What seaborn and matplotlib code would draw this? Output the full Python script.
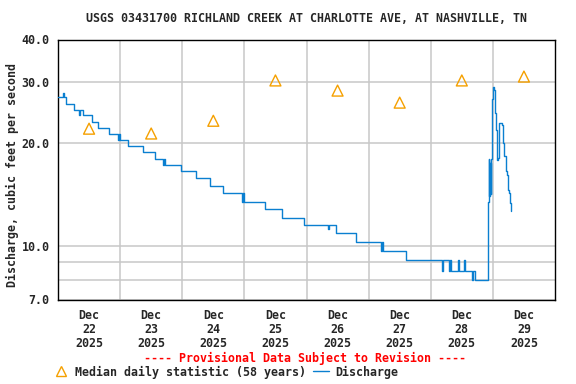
import matplotlib
matplotlib.use("Agg")
import matplotlib.pyplot as plt
from matplotlib.lines import Line2D
import seaborn as sns
import pandas as pd

# ---- data ----
days = ["Dec\n22\n2025", "Dec\n23\n2025", "Dec\n24\n2025", "Dec\n25\n2025",
        "Dec\n26\n2025", "Dec\n27\n2025", "Dec\n28\n2025", "Dec\n29\n2025"]
median_day = [0.5, 1.5, 2.5, 3.5, 4.5, 5.5, 6.5, 7.5]          # noon of each day
median_cfs = [22.0, 21.3, 23.2, 30.4, 28.4, 26.2, 30.4, 31.2]

# discharge breakpoints (days since Dec 22 00:00, cfs) drawn as steps
q_time = [0.000, 0.075, 0.090, 0.134, 0.258, 0.340, 0.360, 0.408, 0.553, 0.650,
          0.823, 0.960, 0.975, 0.990, 1.134, 1.366, 1.565, 1.690, 1.705, 1.720,
          1.976, 2.221, 2.452, 2.650, 2.960, 2.975, 2.989, 3.327, 3.608, 3.965,
          4.340, 4.360, 4.468, 4.802, 5.200, 5.215, 5.231, 5.597, 6.188, 6.205,
          6.296, 6.310, 6.330, 6.446, 6.462, 6.538, 6.555, 6.672, 6.685, 6.715,
          6.925, 6.935, 6.945, 6.955, 6.965, 6.975, 6.984, 7.000, 7.011, 7.027,
          7.043, 7.059, 7.075, 7.102, 7.140, 7.161, 7.183, 7.204, 7.226, 7.237,
          7.258, 7.274, 7.290]
q_cfs = [27.2, 27.9, 27.2, 26.0, 24.9, 24.1, 24.9, 24.1, 23.0, 22.1,
         21.3, 20.4, 21.3, 20.4, 19.6, 18.8, 18.0, 17.2, 18.0, 17.2,
         16.6, 15.8, 15.0, 14.3, 13.5, 14.3, 13.5, 12.8, 12.1, 11.5,
         11.2, 11.5, 10.9, 10.3, 9.7, 10.3, 9.7, 9.1, 8.5, 9.1,
         8.5, 9.1, 8.5, 9.1, 8.5, 9.1, 8.5, 8.0, 8.5, 8.0,
         13.5, 17.9, 14.0, 17.5, 14.2, 18.0, 26.8, 29.1, 28.5, 24.4,
         21.8, 17.8, 18.1, 22.9, 22.6, 20.0, 18.3, 16.6, 16.1, 14.6,
         14.3, 13.4, 12.7]

title = "USGS 03431700 RICHLAND CREEK AT CHARLOTTE AVE, AT NASHVILLE, TN"
ylabel = "Discharge, cubic feet per second"
provisional = "---- Provisional Data Subject to Revision ----"
legend_labels = ["Median daily statistic (58 years)", "Discharge"]
ytick_vals = [7, 8, 9, 10, 20, 30, 40]
ytick_labels = ["7.0", "", "", "10.0", "20.0", "30.0", "40.0"]

# ---- style ----
sns.set_theme(style="white")
plt.rcParams["font.family"] = ["DejaVu Sans Mono"]
plt.rcParams["font.weight"] = "bold"
FS = 8.4
LINE_C = "#0a7fd0"
MED_C = "#f5a000"

fig = plt.figure(figsize=(5.76, 3.84), dpi=100)
ax = fig.add_axes([58/576, 1 - 299.5/384, (555 - 58)/576, 260/384])

dq = pd.DataFrame({"t": q_time, "q": q_cfs})
dm = pd.DataFrame({"t": median_day, "q": median_cfs})

sns.lineplot(data=dq, x="t", y="q", ax=ax, color=LINE_C, lw=1.0,
             drawstyle="steps-post", estimator=None, sort=False, zorder=3)
sns.scatterplot(data=dm, x="t", y="q", ax=ax, marker="^", s=62,
                facecolor="none", edgecolor=MED_C, linewidth=1.0, zorder=4)

ax.set_yscale("log")
ax.set_ylim(7, 40)
ax.set_xlim(0, 8)
ax.set_yticks(ytick_vals)
ax.set_yticklabels(ytick_labels)
ax.yaxis.set_minor_locator(matplotlib.ticker.NullLocator())
ax.set_xticks([1, 2, 3, 4, 5, 6, 7])
ax.set_xticklabels([])
ax.set_xticks(median_day, minor=True)
ax.set_xticklabels(days, minor=True)
ax.tick_params(which="both", length=0, labelsize=FS, pad=7)
ax.tick_params(axis="y", pad=6)
ax.grid(True, which="major", color="#c8c8c8", lw=1.1)
for s in ax.spines.values():
    s.set_color("black")
    s.set_linewidth(1.0)
ax.set_xlabel("")
ax.set_ylabel(ylabel, fontsize=FS, fontweight="bold")
ax.yaxis.set_label_coords(-0.078, 0.479)
for lab in ax.get_xticklabels(minor=True) + ax.get_yticklabels():
    lab.set_fontweight("bold")
    lab.set_linespacing(1.07)

fig.text(306/576, 1 - 19/384, title, ha="center", va="center",
         fontsize=FS, fontweight="bold")
fig.text(305/576, 1 - 358/384, provisional, ha="center", va="center",
         fontsize=FS, fontweight="bold", color="red")

handles = [Line2D([], [], marker="^", ls="none", markersize=7.5,
                  markerfacecolor="none", markeredgecolor=MED_C, markeredgewidth=1.0),
           Line2D([], [], color=LINE_C, lw=1.0)]
fig.legend(handles, legend_labels, loc="center left", ncol=2, frameon=False,
           bbox_to_anchor=(42/576, 1 - 372/384), fontsize=FS,
           handlelength=1.4, handletextpad=0.5, columnspacing=0.6,
           prop={"weight": "bold", "size": FS})

fig.savefig("out.png", dpi=100)
